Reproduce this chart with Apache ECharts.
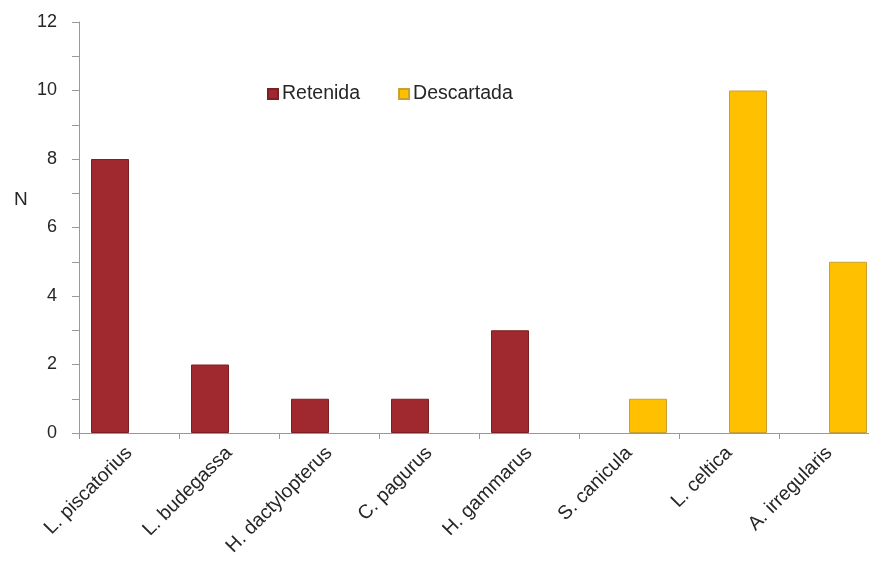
<!DOCTYPE html>
<html>
<head>
<meta charset="utf-8">
<script src="https://cdn.jsdelivr.net/npm/echarts@6/dist/echarts.min.js"></script>
<style>html,body{margin:0;padding:0;background:#fff;}#c{width:869px;height:572px;}</style>
</head>
<body>
<div id="c"></div>
<script>
const categories = ['L. piscatorius','L. budegassa','H. dactylopterus','C. pagurus','H. gammarus','S. canicula','L. celtica','A. irregularis'];
const retenida = [8, 2, 1, 1, 3, null, null, null];
const descartada = [null, null, null, null, null, 1, 10, 5];
const yTicks = [0, 2, 4, 6, 8, 10, 12];

const chart = echarts.init(document.getElementById('c'));
const font = 'Liberation Sans, Arial, sans-serif';
chart.setOption({
  animation: false,
  backgroundColor: '#ffffff',
  textStyle: { fontFamily: font },
  title: {
    text: 'N', left: 9, top: 185,
    textStyle: { fontSize: 19, fontWeight: 'normal', color: '#262626', fontFamily: font }
  },
  grid: { left: 79, right: -10, top: 22, bottom: 139, outerBoundsMode: 'none', containLabel: false },
  legend: {
    left: 262, top: 79,
    itemWidth: 10, itemHeight: 10, itemGap: 38,
    icon: 'rect',
    textStyle: { fontSize: 19.5, color: '#262626', fontFamily: font, padding: [0,0,0,-1] },
    data: ['Retenida', 'Descartada']
  },
  xAxis: {
    type: 'category',
    data: categories,
    axisLine: { lineStyle: { color: '#999', width: 1 } },
    axisTick: { show: true, length: 6, lineStyle: { color: '#999' }, alignWithLabel: false },
    axisLabel: { rotate: 45, fontSize: 19.5, color: '#262626', margin: 17, fontFamily: font, interval: 0 }
  },
  yAxis: {
    type: 'value',
    min: 0, max: 12, interval: 1,
    axisLine: { show: true, lineStyle: { color: '#999', width: 1 } },
    axisTick: { show: true, length: 7, lineStyle: { color: '#999' } },
    splitLine: { show: false },
    axisLabel: {
      fontSize: 18, color: '#262626', margin: 22, fontFamily: font,
      formatter: v => yTicks.includes(v) ? String(v) : ''
    }
  },
  series: [
    {
      name: 'Retenida', type: 'bar', data: retenida,
      barWidth: 38, barGap: '0%',
      itemStyle: { color: '#A0292F', borderColor: '#7E1F22', borderWidth: 1 }
    },
    {
      name: 'Descartada', type: 'bar', data: descartada,
      barWidth: 38,
      itemStyle: { color: '#FFC000', borderColor: '#C9A030', borderWidth: 1 }
    }
  ]
});
</script>
</body>
</html>
